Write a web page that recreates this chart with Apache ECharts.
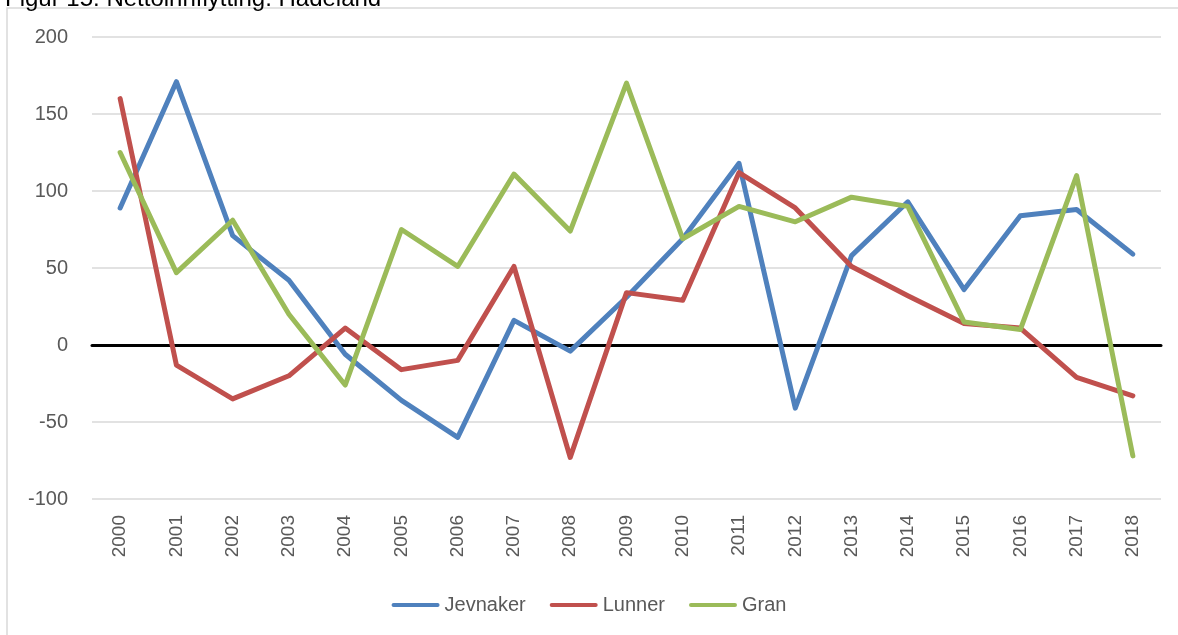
<!DOCTYPE html>
<html lang="no">
  <head>
    <meta charset="UTF-8" />
    <title>Nettoinnflytting Hadeland</title>
    <script src="https://cdn.jsdelivr.net/npm/echarts@6/dist/echarts.min.js"></script>
    <style>
      html, body { margin: 0; padding: 0; background: #fff; }
      #chart { width: 1178px; height: 635px; }
    </style>
  </head>
  <body>
    <div id="chart"></div>
    <script>
      // data
      var years = ['2000', '2001', '2002', '2003', '2004', '2005', '2006', '2007', '2008', '2009',
        '2010', '2011', '2012', '2013', '2014', '2015', '2016', '2017', '2018'];
      var jevnaker = [89, 171, 71, 42, -6, -36, -60, 16, -4, 31, 69, 118, -41, 58, 93, 36, 84, 88, 59];
      var lunner = [160, -13, -35, -20, 11, -16, -10, 51, -73, 34, 29, 112, 89, 51, 32, 14, 11, -21, -33];
      var gran = [125, 47, 81, 20, -26, 75, 51, 111, 74, 170, 69, 90, 80, 96, 90, 15, 10, 110, -72];
      var yTicks = { min: -100, max: 200, step: 50 };

      var chart = echarts.init(document.getElementById('chart'));
      var fontName = "'Liberation Sans', Arial, sans-serif";

      function lineSeries(name, color, data) {
        return {
          name: name,
          type: 'line',
          data: data,
          color: color,
          showSymbol: false,
          symbol: 'none',
          lineStyle: { width: 5, color: color, cap: 'round', join: 'round' }
        };
      }

      var option = {
        animation: false,
        textStyle: { fontFamily: fontName },
        title: {
          text: 'Figur 15: Nettoinnflytting. Hadeland',
          left: 0,
          top: -18,
          textStyle: { fontSize: 24, fontWeight: 'normal', color: '#000', fontFamily: fontName }
        },
        graphic: [
          {
            type: 'rect',
            shape: { x: 7, y: 8, width: 1250, height: 700 },
            style: { fill: 'none', stroke: '#d9d9d9', lineWidth: 1.5 },
            z: -1
          }
        ],
        grid: { left: 92, right: 17, top: 37, bottom: 136 },
        legend: {
          top: 590,
          left: 'center',
          icon: 'path://M2,0 L46,0 A2,2 0 0 1 46,4 L2,4 A2,2 0 0 1 2,0 Z',
          itemWidth: 48,
          itemHeight: 5,
          itemGap: 24,
          selectedMode: false,
          textStyle: { fontSize: 20, color: '#595959', fontFamily: fontName }
        },
        xAxis: {
          type: 'category',
          data: years,
          boundaryGap: true,
          axisLine: { onZero: true, lineStyle: { color: '#000', width: 3 } },
          axisTick: { show: false },
          axisLabel: {
            rotate: 90,
            margin: 16,
            fontSize: 19,
            color: '#595959',
            interval: 0
          },
          splitLine: { show: false }
        },
        yAxis: {
          type: 'value',
          min: yTicks.min,
          max: yTicks.max,
          interval: yTicks.step,
          axisLine: { show: false },
          axisTick: { show: false },
          axisLabel: { fontSize: 20, color: '#595959', margin: 24 },
          splitLine: { lineStyle: { color: '#d9d9d9', width: 1.5 } }
        },
        series: [
          lineSeries('Jevnaker', '#4f81bd', jevnaker),
          lineSeries('Lunner', '#c0504d', lunner),
          lineSeries('Gran', '#9bbb59', gran)
        ]
      };

      chart.setOption(option);
    </script>
  </body>
</html>
